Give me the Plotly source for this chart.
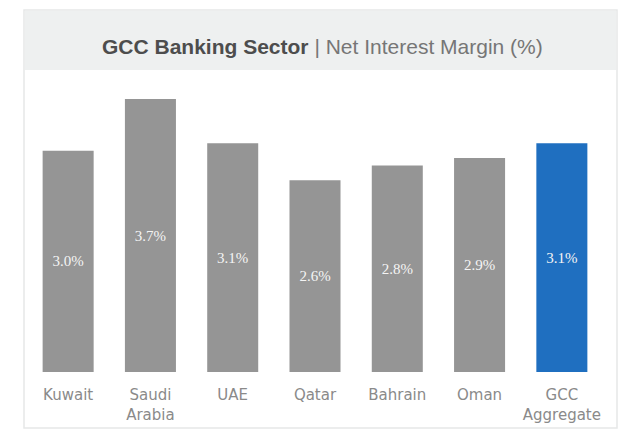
import plotly.graph_objects as go

categories = ["Kuwait", "Saudi<br>Arabia", "UAE", "Qatar", "Bahrain", "Oman", "GCC<br>Aggregate"]
nim_values = [3.0, 3.7, 3.1, 2.6, 2.8, 2.9, 3.1]
bar_colors = ["#959595"] * 6 + ["#1f6fc0"]

W, H = 635, 434
L, R, T, B = 27, 32, 85, 62
pw, ph = W - L - R, H - T - B

def px(x):
    return (x - L) / pw

def py(y):
    return (H - B - y) / ph

fig = go.Figure(go.Bar(
    x=categories, y=nim_values,
    marker=dict(color=bar_colors, line=dict(width=0)),
    text=[f"{v:.1f}%" for v in nim_values],
    textposition="inside", insidetextanchor="middle",
    textfont=dict(color="#f4f4f4", size=15, family="Liberation Serif"),
    width=0.62,
))

fig.update_layout(
    width=W, height=H,
    margin=dict(l=L, r=R, t=T, b=B, autoexpand=False),
    paper_bgcolor="white", plot_bgcolor="white",
    showlegend=False,
    xaxis=dict(showgrid=False, showline=False, ticks="", zeroline=False,
               automargin=False, ticklabelstandoff=12,
               tickfont=dict(color="#8a8a8a", size=15, family="DejaVu Sans")),
    yaxis=dict(range=[0, 3.89], visible=False, automargin=False),
    shapes=[
        dict(type="rect", xref="paper", yref="paper",
             x0=px(24), x1=px(617), y0=py(428), y1=py(10),
             line=dict(color="#e6e8e8", width=1.5), fillcolor="rgba(0,0,0,0)", layer="below"),
        dict(type="rect", xref="paper", yref="paper",
             x0=px(25), x1=px(616), y0=py(70), y1=py(11),
             line=dict(width=0), fillcolor="#eef0f0", layer="below"),
    ],
    annotations=[
        dict(xref="paper", yref="paper", x=px(322), y=py(47), xanchor="center", yanchor="middle",
             showarrow=False,
             text="<b>GCC Banking Sector</b> <span style='color:#767676'>| Net Interest Margin (%)</span>",
             font=dict(color="#4d4d4d", size=21, family="Liberation Sans")),
    ],
)

fig.write_html("out.html", config={"displayModeBar": False},
               post_script="document.body.style.margin='0';document.body.style.overflow='hidden';")
